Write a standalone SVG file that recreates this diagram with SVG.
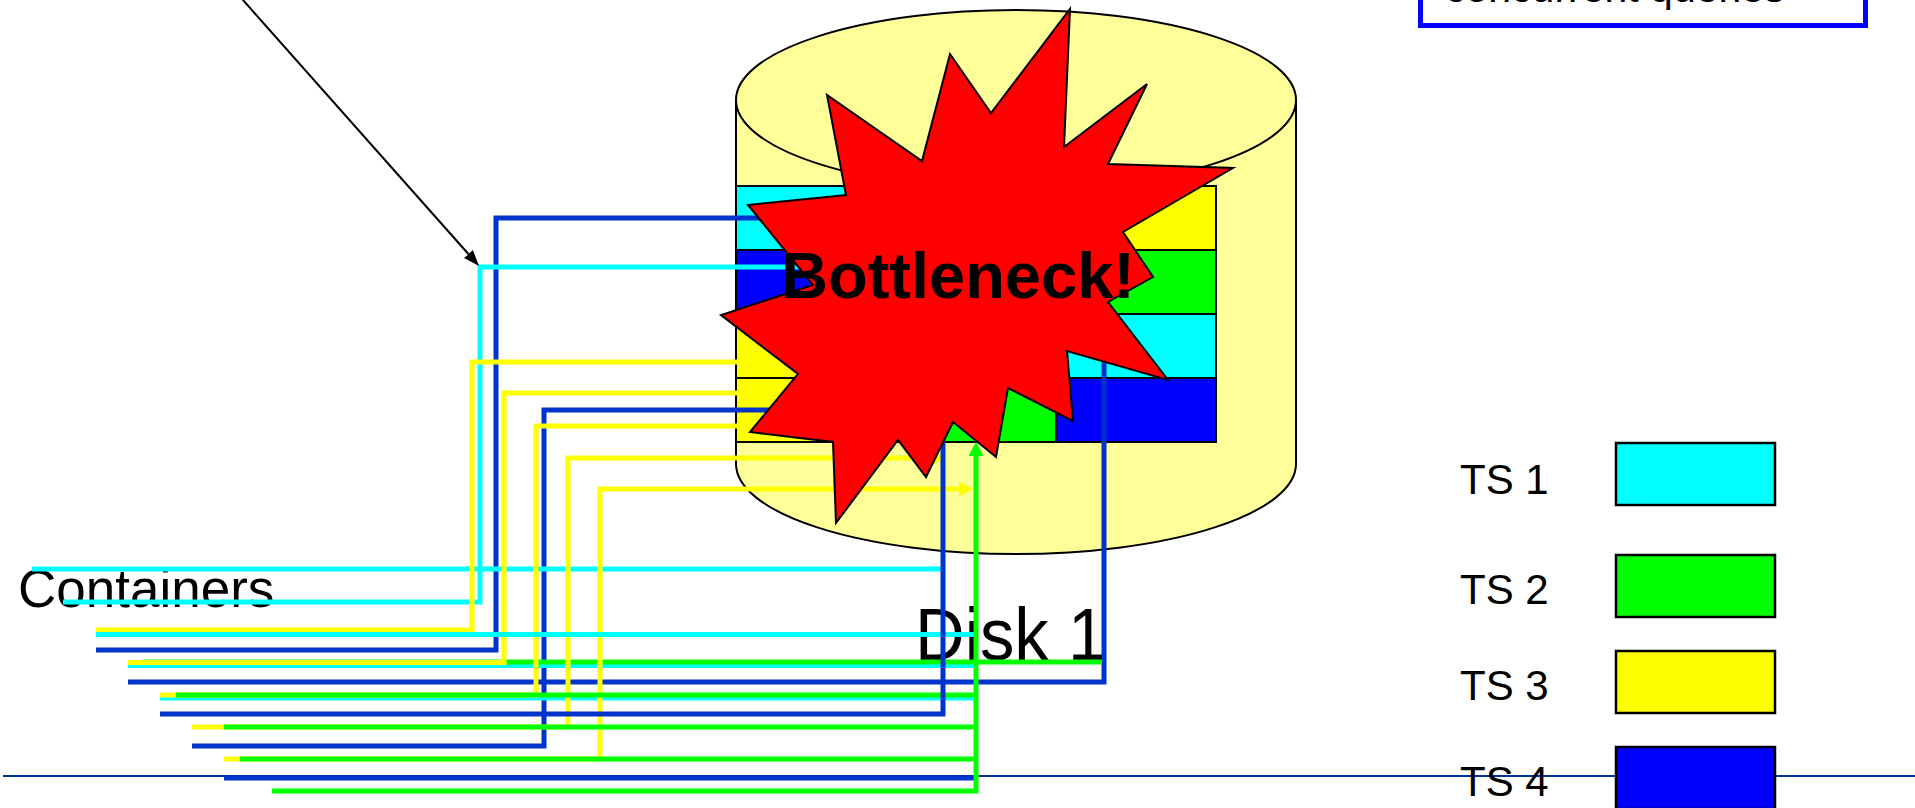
<svg xmlns="http://www.w3.org/2000/svg" width="1915" height="808" viewBox="0 0 1915 808">
<defs>
<style>
.t{font-family:"Liberation Sans",Arial,Helvetica,sans-serif;fill:#000}
.ln{fill:none;stroke-width:5;stroke-linejoin:miter;stroke-linecap:butt}
.cy{stroke:#00FFFF}
.ye{stroke:#FFFF00}
.gr{stroke:#00FF00}
.bl{stroke:#0033CC}
.cell{stroke:#000;stroke-width:2}
.lg{stroke:#000;stroke-width:2.5}
</style>
<marker id="ah-black" markerUnits="userSpaceOnUse" markerWidth="16" markerHeight="12" refX="0" refY="6" orient="auto" viewBox="0 0 16 12"><path d="M0,0 L16,6 L0,12 z" fill="#000"/></marker>
<marker id="ah-yellow" markerUnits="userSpaceOnUse" markerWidth="14" markerHeight="15" refX="0" refY="7.5" orient="auto" viewBox="0 0 14 15"><path d="M0,0 L14,7.5 L0,15 z" fill="#FFFF00"/></marker>
<marker id="ah-green" markerUnits="userSpaceOnUse" markerWidth="14" markerHeight="15" refX="0" refY="7.5" orient="auto" viewBox="0 0 14 15"><path d="M0,0 L14,7.5 L0,15 z" fill="#00FF00"/></marker>
</defs>
<rect width="1915" height="808" fill="#fff"/>

<g id="note-box">
<rect x="1420.5" y="-60" width="445" height="85.5" fill="#fff" stroke="#0000FF" stroke-width="5"/>
<text class="t" x="1445" y="1.5" font-size="41">concurrent queries</text>
</g>

<g id="containers-label"><text class="t" x="18" y="607" font-size="53">Containers</text></g>
<g id="disk-label"><text class="t" transform="translate(915,660) scale(0.93,1)" x="0" y="0" font-size="74">Disk 1</text></g>

<g id="disk1">
<path d="M736,100 V464 A280,90 0 0 0 1296,464 V100 Z" fill="#FFFF99" stroke="#000" stroke-width="2"/>
<ellipse cx="1016" cy="100" rx="280" ry="90" fill="#FFFF99" stroke="#000" stroke-width="2"/>
<g id="row1">
<rect class="cell" x="736" y="186" width="160" height="64" fill="#00FFFF"/>
<rect class="cell" x="896" y="186" width="160" height="64" fill="#00FFFF"/>
<rect class="cell" x="1056" y="186" width="160" height="64" fill="#FFFF00"/>
</g>
<g id="row2">
<rect class="cell" x="736" y="250" width="160" height="64" fill="#0000FF"/>
<rect class="cell" x="896" y="250" width="160" height="64" fill="#00FF00"/>
<rect class="cell" x="1056" y="250" width="160" height="64" fill="#00FF00"/>
</g>
<g id="row3">
<rect class="cell" x="736" y="314" width="160" height="64" fill="#FFFF00"/>
<rect class="cell" x="896" y="314" width="160" height="64" fill="#00FFFF"/>
<rect class="cell" x="1056" y="314" width="160" height="64" fill="#00FFFF"/>
</g>
<g id="row4">
<rect class="cell" x="736" y="378" width="160" height="64" fill="#FFFF00"/>
<rect class="cell" x="896" y="378" width="160" height="64" fill="#00FF00"/>
<rect class="cell" x="1056" y="378" width="160" height="64" fill="#0000FF"/>
</g>
</g>

<line id="footer-rule" x1="3" y1="776" x2="1915" y2="776" stroke="#003399" stroke-width="2"/>

<g id="connectors">
<path class="ln bl" d="M96,650 H496 V218 H800"/>
<path class="ln bl" d="M128,682 H1104 V340"/>
<path class="ln bl" d="M192,746 H544 V410 H800"/>
<path class="ln bl" d="M224,778 H976"/>
<path class="ln cy" d="M32,569 H941"/>
<path class="ln cy" d="M63,602 H480 V267 H800"/>
<path class="ln cy" d="M128,665.5 H976"/>
<path class="ln cy" d="M160,698 H976"/>
<path class="ln gr" d="M143,662 H1102"/>
<path class="ln ye" d="M96,630 H472 V362 H737"/>
<path class="ln ye" d="M128,662.5 H504 V393 H737"/>
<path class="ln ye" d="M160,695 H536 V426 H737"/>
<path class="ln ye" d="M192,727 H568 V458 H931" marker-end="url(#ah-yellow)"/>
<path class="ln ye" d="M224,759 H600 V489 H959" marker-end="url(#ah-yellow)"/>
<path class="ln cy" d="M96,634.5 H976"/>
<path class="ln gr" d="M176,695 H976"/>
<path class="ln gr" d="M224,727 H976"/>
<path class="ln gr" d="M240,759 H976"/>
<path class="ln gr" d="M272,791 H976 V456" marker-end="url(#ah-green)"/>
<path class="ln bl" d="M160,714 H943 V442"/>
<path d="M236.8,-7 L468.4,254" fill="none" stroke="#000" stroke-width="2" marker-end="url(#ah-black)"/>
</g>

<g id="bottleneck">
<polygon points="1070,9 1064,147 1147,84 1108,164 1233,168 1123,232 1153,277 1108,302 1168,380 1067,351 1073,421 1008,388 996,457 953,422 926,477 898,440 836,523 833,442 750,432 798,374 721,315 813,285 748,205 846,195 827,95 922,161 950,54 991,113" fill="#FF0000" stroke="#000" stroke-width="2" stroke-linejoin="miter"/>
<text class="t" x="781" y="298" font-size="65" font-weight="bold">Bottleneck!</text>
</g>

<g id="legend-ts1"><text class="t" x="1460" y="494" font-size="42">TS 1</text><rect class="lg" x="1616" y="443" width="159" height="62" fill="#00FFFF"/></g>
<g id="legend-ts2"><text class="t" x="1460" y="604" font-size="42">TS 2</text><rect class="lg" x="1616" y="555" width="159" height="62" fill="#00FF00"/></g>
<g id="legend-ts3"><text class="t" x="1460" y="700" font-size="42">TS 3</text><rect class="lg" x="1616" y="651" width="159" height="62" fill="#FFFF00"/></g>
<g id="legend-ts4"><text class="t" x="1460" y="796" font-size="42">TS 4</text><rect class="lg" x="1616" y="747" width="159" height="62" fill="#0000FF"/></g>
</svg>
